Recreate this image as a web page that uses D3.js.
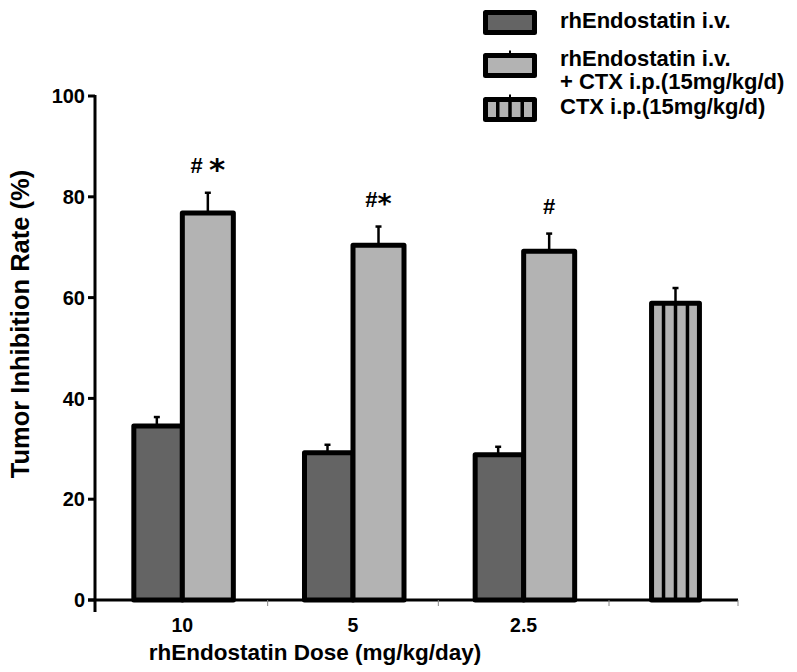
<!DOCTYPE html>
<html>
<head>
<meta charset="utf-8">
<script src="https://cdn.jsdelivr.net/npm/d3@7"></script>
<style>
  html, body { margin: 0; padding: 0; background: #fff; }
  svg { display: block; }
  text { font-family: "Liberation Sans", Arial, Helvetica, sans-serif; font-weight: bold; fill: #000; }
</style>
</head>
<body>
<svg id="chart" width="797" height="672"></svg>
<script>
// ---- data ----
const doses = ["10", "5", "2.5"];
const endoValues = [34.5, 29.2, 28.8];
const endoErrors = [1.8, 1.6, 1.6];
const comboValues = [76.8, 70.4, 69.2];
const comboErrors = [4.0, 3.7, 3.5];
const ctxValue = [58.9];
const ctxError = [3.0];
const annotations = ["# *", "#*", "#"];
const yTicks = [0, 20, 40, 60, 80, 100];
const legendLabels = [["rhEndostatin i.v."], ["rhEndostatin i.v.", "+ CTX i.p.(15mg/kg/d)"], ["CTX i.p.(15mg/kg/d)"]];
const colors = { endo: "#646464", combo: "#b3b3b3", ctx: "#b3b3b3" };

const svg = d3.select("#chart");

const y = d3.scaleLinear().domain([0, 100]).range([600, 96]);
const xGroup = d3.scaleBand().domain(doses).range([97, 609]).paddingInner(0).paddingOuter(0);
const xSub = d3.scaleBand().domain(["endo", "combo"]).range([0, xGroup.bandwidth()]).paddingInner(0).paddingOuter(0.673);
const xCtx = d3.scaleBand().domain(["CTX"]).range([609, 738]).paddingOuter(0.72);

const SW = 5;
const bars = [];
doses.forEach((d, i) => {
  bars.push({ key: "endo", x0: xGroup(d) + xSub("endo"), w: xSub.bandwidth(), v: endoValues[i], e: endoErrors[i], first: true });
  bars.push({ key: "combo", x0: xGroup(d) + xSub("combo"), w: xSub.bandwidth(), v: comboValues[i], e: comboErrors[i], first: false });
});
bars.push({ key: "ctx", x0: xCtx("CTX") + 2, w: xCtx.bandwidth(), v: ctxValue[0], e: ctxError[0], first: true, last: true });

// error bars (behind bars)
const eg = svg.append("g");
bars.forEach(b => {
  const cx = b.x0 + b.w / 2;
  eg.append("line").attr("x1", cx).attr("x2", cx).attr("y1", y(b.v)).attr("y2", y(b.v + b.e))
    .attr("stroke", "#000").attr("stroke-width", 2.5);
  eg.append("line").attr("x1", cx - 3).attr("x2", cx + 3).attr("y1", y(b.v + b.e)).attr("y2", y(b.v + b.e))
    .attr("stroke", "#000").attr("stroke-width", 2.5);
});

// bars
const bg = svg.append("g");
bars.forEach(b => {
  const left = b.x0 + (b.first ? SW / 2 : 0);
  const right = b.x0 + b.w - (b.last ? SW / 2 : 0);
  bg.append("rect")
    .attr("x", left).attr("y", y(b.v))
    .attr("width", right - left).attr("height", y(0) - y(b.v))
    .attr("fill", colors[b.key]).attr("stroke", "#000").attr("stroke-width", SW)
    .attr("stroke-linejoin", "round");
  if (b.key === "ctx") {
    const inner = (right - left);
    [1, 2, 3].forEach(k => {
      const lx = left + inner * k / 4;
      bg.append("line").attr("x1", lx).attr("x2", lx).attr("y1", y(b.v)).attr("y2", y(0))
        .attr("stroke", "#000").attr("stroke-width", 3.5);
    });
  }
});

// significance annotations
doses.forEach((d, i) => {
  const cx = xGroup(d) + xSub("combo") + xSub.bandwidth() / 2;
  const t = svg.append("text").attr("x", cx).attr("y", y(comboValues[i] + comboErrors[i]) - 20)
    .attr("text-anchor", "middle");
  annotations[i].split("").forEach(ch => {
    const ts = t.append("tspan").text(ch);
    if (ch === "*") {
      ts.attr("font-family", "'DejaVu Sans', sans-serif").attr("font-size", i === 0 ? 31 : 27).attr("dy", i === 0 ? 7 : 6);
    } else {
      ts.attr("font-size", 22);
    }
  });
});

// y axis
const ya = svg.append("g");
ya.append("line").attr("x1", 95).attr("x2", 95).attr("y1", y(100) - 1).attr("y2", 612)
  .attr("stroke", "#000").attr("stroke-width", 3);
yTicks.forEach(t => {
  ya.append("line").attr("x1", 88).attr("x2", 95).attr("y1", y(t)).attr("y2", y(t))
    .attr("stroke", "#000").attr("stroke-width", 3);
  ya.append("text").attr("x", 85).attr("y", y(t)).attr("dy", "0.36em")
    .attr("text-anchor", "end").attr("font-size", 20).text(t);
});

// x axis
const xa = svg.append("g");
xa.append("line").attr("x1", 88).attr("x2", 738).attr("y1", y(0)).attr("y2", y(0))
  .attr("stroke", "#000").attr("stroke-width", 3);
[xGroup("5"), xGroup("2.5"), 609, 738].forEach(tx => {
  xa.append("line").attr("x1", tx).attr("x2", tx).attr("y1", y(0)).attr("y2", y(0) + 6)
    .attr("stroke", "#888").attr("stroke-width", 1);
});
doses.forEach(d => {
  xa.append("text").attr("x", xGroup(d) + xGroup.bandwidth() / 2).attr("y", 632)
    .attr("text-anchor", "middle").attr("font-size", 19.5).text(d);
});

// axis titles
svg.append("text").attr("x", 315).attr("y", 660).attr("text-anchor", "middle")
  .attr("font-size", 22.5).text("rhEndostatin Dose (mg/kg/day)");
svg.append("text").attr("transform", "translate(29,324) rotate(-90)").attr("text-anchor", "middle")
  .attr("font-size", 25.5).text("Tumor Inhibition Rate (%)");

// legend
const lg = svg.append("g");
const boxTops = [12.5, 55.5, 99.5];
const textBase = [[28], [66, 89], [114]];
const boxFills = [colors.endo, colors.combo, colors.ctx];
legendLabels.forEach((lines, i) => {
  if (i > 0) {
    lg.append("line").attr("x1", 510).attr("x2", 510).attr("y1", boxTops[i] - 5).attr("y2", boxTops[i])
      .attr("stroke", "#000").attr("stroke-width", 2);
  }
  lg.append("rect").attr("x", 485.5).attr("y", boxTops[i]).attr("width", 49).attr("height", 20)
    .attr("fill", boxFills[i]).attr("stroke", "#000").attr("stroke-width", SW).attr("stroke-linejoin", "round");
  if (i === 2) {
    [1, 2, 3].forEach(k => {
      const lx = 485.5 + 49 * k / 4;
      lg.append("line").attr("x1", lx).attr("x2", lx).attr("y1", boxTops[i]).attr("y2", boxTops[i] + 20)
        .attr("stroke", "#000").attr("stroke-width", 3.5);
    });
  }
  lines.forEach((ln, j) => {
    lg.append("text").attr("x", 560).attr("y", textBase[i][j]).attr("font-size", 22).text(ln);
  });
});
</script>
</body>
</html>
